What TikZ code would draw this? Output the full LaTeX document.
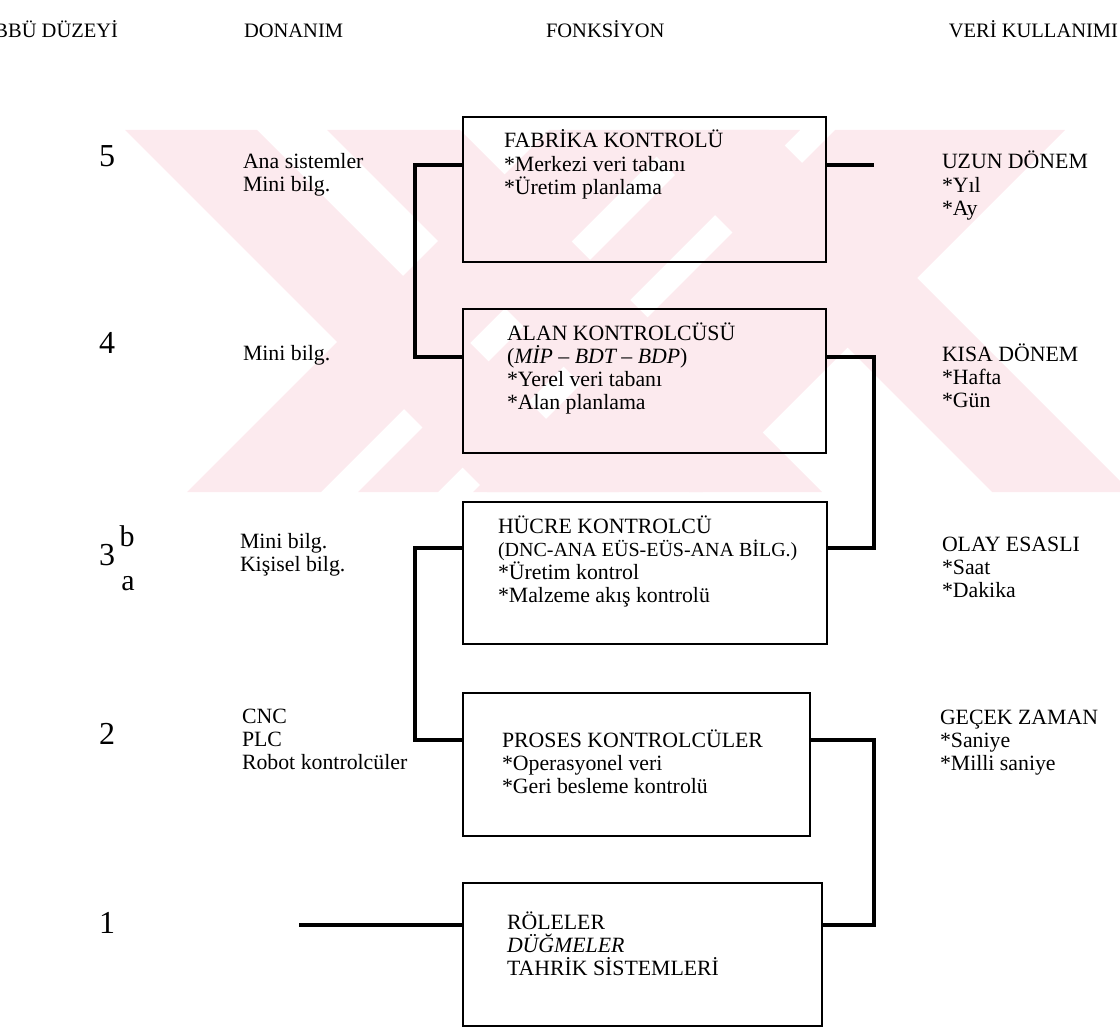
\documentclass[tikz,border=0pt]{standalone}
\usepackage{fontspec}
\setmainfont{Liberation Serif}
\usetikzlibrary{calc}

\definecolor{wmpink}{RGB}{252,234,238}

% a block of left-aligned lines whose baseline is that of its first line
\newcommand\lns[1]{\vtop{\halign{##\hfil\cr#1\crcr}}}

\tikzset{
  txt/.style={anchor=base west, inner sep=0pt, outer sep=0pt,
              font=\fontsize{21.8}{23.2}\selectfont},
  hdr/.style={inner sep=0pt, outer sep=0pt, font=\fontsize{20.5}{22}\selectfont},
  lvl/.style={anchor=base, inner sep=0pt, outer sep=0pt, font=\fontsize{32}{34}\selectfont},
  sublvl/.style={anchor=base, inner sep=0pt, outer sep=0pt, font=\fontsize{30}{32}\selectfont},
  panel/.style={draw=black, line width=2pt, anchor=north west, inner sep=0pt,
                outer sep=0pt},
  wire/.style={draw=black, line width=3.6pt, line join=miter},
}

\begin{document}
\begin{tikzpicture}[x=1pt,y=-1pt]
\useasboundingbox (0,0) rectangle (1120,1030);

% faint diagonal background bands
\begin{scope}
  \clip (0,130) rectangle (1120,492);
  % stripes falling to the right: x - y between a and b
  \foreach \a/\b in {-5/127, 197/330, 500/639}
    \fill[wmpink] (\a+130,130) -- (\b+130,130) -- (\b+492,492) -- (\a+492,492) -- cycle;
  % stripes rising to the right: x + y between a and b
  \foreach \a/\b in {679/813, 850/930, 965/1195}
    \fill[wmpink] (\a-130,130) -- (\b-130,130) -- (\b-492,492) -- (\a-492,492) -- cycle;
\end{scope}

% column headings
\node[hdr, anchor=base east] (hLevel) at (118,38) {BBÜ DÜZEYİ};
\node[hdr, anchor=base west] (hHw)    at (244,38) {DONANIM};
\node[hdr, anchor=base west] (hFn)    at (546,38) {FONKSİYON};
\node[hdr, anchor=base east] (hData)  at (1118,38) {VERİ KULLANIMI};

% level numbers
\node[lvl] (n5) at (107,167) {5};
\node[lvl] (n4) at (107,353) {4};
\node[lvl] (n3) at (107,565) {3};
\node[sublvl] (n3b) at (127,546) {b};
\node[sublvl] (n3a) at (128,590) {a};
\node[lvl] (n2) at (107,744) {2};
\node[lvl] (n1) at (107,933) {1};

% hardware column
\node[txt] (hw5) at (243,168) {\lns{Ana sistemler\cr Mini bilg.}};
\node[txt] (hw4) at (243,360) {\lns{Mini bilg.}};
\node[txt] (hw3) at (240,548) {\lns{Mini bilg.\cr Kişisel bilg.}};
\node[txt] (hw2) at (242,723) {\lns{CNC\cr PLC\cr Robot kontrolcüler}};

% function boxes
\node[panel, minimum width=363pt, minimum height=145pt] (fab) at (463,117) {};
\node[panel, minimum width=363pt, minimum height=144pt] (alan) at (463,309) {};
\node[panel, minimum width=364pt, minimum height=142pt] (hucre) at (463,502) {};
\node[panel, minimum width=347pt, minimum height=143pt] (proses) at (463,693) {};
\node[panel, minimum width=359pt, minimum height=143pt] (role) at (463,883) {};

\node[txt] (fabT) at (504,148) {\lns{FABRİKA KONTROLÜ\cr *Merkezi veri tabanı\cr *Üretim planlama}};
\node[txt] (alanT) at (507,340) {\lns{ALAN KONTROLCÜSÜ\cr (\textit{MİP – BDT – BDP})\cr *Yerel veri tabanı\cr *Alan planlama}};
\node[txt] (hucreT) at (498,533) {\lns{HÜCRE KONTROLCÜ\cr {\fontsize{20}{23.2}\selectfont (DNC-ANA EÜS-EÜS-ANA BİLG.)}\cr *Üretim kontrol\cr *Malzeme akış kontrolü}};
\node[txt] (prosesT) at (502,747) {\lns{PROSES KONTROLCÜLER\cr *Operasyonel veri\cr *Geri besleme kontrolü}};
\node[txt] (roleT) at (507,929) {\lns{RÖLELER\cr \textit{DÜĞMELER}\cr TAHRİK SİSTEMLERİ}};

% data usage column
\node[txt] (d5) at (942,169) {\lns{UZUN DÖNEM\cr *Yıl\cr *Ay}};
\node[txt] (d4) at (942,361) {\lns{KISA DÖNEM\cr *Hafta\cr *Gün}};
\node[txt] (d3) at (942,551) {\lns{OLAY ESASLI\cr *Saat\cr *Dakika}};
\node[txt] (d2) at (940,724) {\lns{GEÇEK ZAMAN\cr *Saniye\cr *Milli saniye}};

% rows and bus columns for the connectors
\coordinate (r5) at (0,165);
\coordinate (r4) at (0,357);
\coordinate (r3) at (0,548);
\coordinate (r2) at (0,740);
\coordinate (r1) at (0,925);
\coordinate (busL) at (415,0);
\coordinate (busR) at (874,0);
\coordinate (feed) at (299,925);

% connectors
\draw[wire] (fab.west |- r5) -- (busL |- r5) -- (busL |- r4) -- (alan.west |- r4);
\draw[wire] (fab.east |- r5) -- (busR |- r5);
\draw[wire] (alan.east |- r4) -- (busR |- r4) -- (busR |- r3) -- (hucre.east |- r3);
\draw[wire] (hucre.west |- r3) -- (busL |- r3) -- (busL |- r2) -- (proses.west |- r2);
\draw[wire] (proses.east |- r2) -- (busR |- r2) -- (busR |- r1) -- (role.east |- r1);
\draw[wire] (feed) -- (role.west |- r1);
\end{tikzpicture}
\end{document}
